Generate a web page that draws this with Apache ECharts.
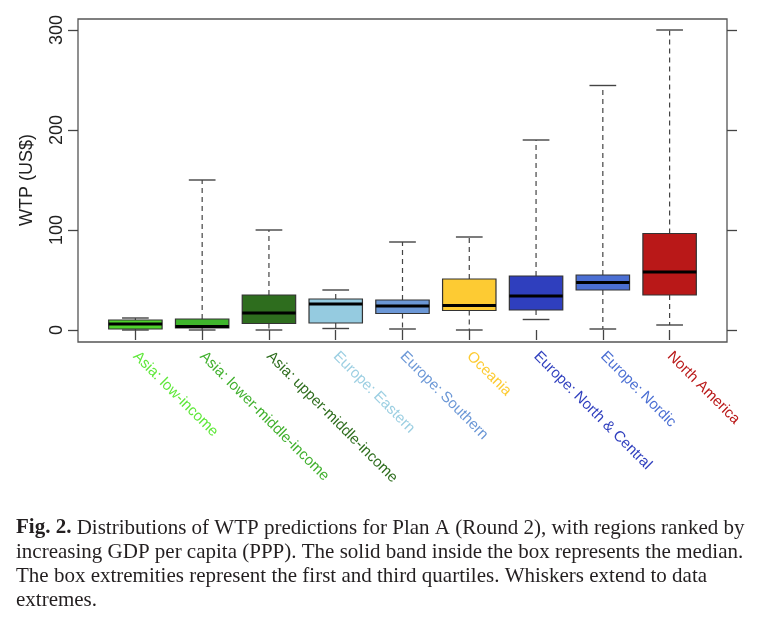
<!DOCTYPE html>
<html>
<head>
<meta charset="utf-8">
<script src="https://cdn.jsdelivr.net/npm/echarts@6/dist/echarts.min.js"></script>
<style>
html,body{margin:0;padding:0;background:#fff;}
#chart{width:768px;height:627px;}
</style>
</head>
<body>
<div id="chart"></div>
<script>
// Data
var categories = ['Asia: low-income','Asia: lower-middle-income','Asia: upper-middle-income','Europe: Eastern','Europe: Southern','Oceania','Europe: North & Central','Europe: Nordic','North America'];
var whiskerLow = [0, 0, 0, 1.5, 1, 0, 10.5, 1, 5];
var quartile1  = [1, 2, 6.5, 7, 16.5, 19.5, 20, 40, 35];
var medians    = [6, 3.5, 17, 26, 24, 24.5, 34, 47.5, 58];
var quartile3  = [10, 11, 35, 31, 30, 51, 54, 55, 96.5];
var whiskerHigh= [12, 150, 100, 40, 88, 93, 190, 244.5, 300];
var yTicks = [0, 100, 200, 300];

var boxColors   = ['#4fd22c','#3fb52c','#2e6d1e','#95cbe0','#6b97d6','#fdcb33','#2f3fbe','#4b6fd3','#b91818'];
var labelColors = ['#5fe83a','#41b02e','#2e6d1e','#9ccfe2','#6b97d6','#fdcb33','#2f3fbe','#4b6fd3','#b91818'];

var boxData = categories.map(function(c, i){
  return [i, whiskerLow[i], quartile1[i], medians[i], quartile3[i], whiskerHigh[i]];
});

var chart = echarts.init(document.getElementById('chart'), null, {renderer:'canvas'});

function renderBox(params, api){
  var i = api.value(0);
  var band = api.size([1, 0])[0];
  var bw = band * 0.8;
  var cw = band * 0.4;
  var pLow = api.coord([i, api.value(1)]);
  var pQ1 = api.coord([i, api.value(2)]);
  var pMed = api.coord([i, api.value(3)]);
  var pQ3 = api.coord([i, api.value(4)]);
  var pHigh = api.coord([i, api.value(5)]);
  var x = pMed[0];
  var dash = {stroke:'#444', lineWidth:1.2, lineDash:[5,4]};
  var solid = {stroke:'#444', lineWidth:1.4};
  return {
    type:'group',
    children:[
      {type:'line', shape:{x1:x, y1:pQ3[1], x2:x, y2:pHigh[1]}, style:dash},
      {type:'line', shape:{x1:x, y1:pQ1[1], x2:x, y2:pLow[1]}, style:dash},
      {type:'line', shape:{x1:x-cw/2, y1:pHigh[1], x2:x+cw/2, y2:pHigh[1]}, style:solid},
      {type:'line', shape:{x1:x-cw/2, y1:pLow[1], x2:x+cw/2, y2:pLow[1]}, style:solid},
      {type:'rect', shape:{x:x-bw/2, y:pQ3[1], width:bw, height:pQ1[1]-pQ3[1]},
        style:{fill:boxColors[i], stroke:'#333', lineWidth:1.2}},
      {type:'line', shape:{x1:x-bw/2, y1:pMed[1], x2:x+bw/2, y2:pMed[1]}, style:{stroke:'#000', lineWidth:3.2}}
    ]
  };
}

var caption = '{b|Fig. 2.}{n| Distributions of WTP predictions for Plan A (Round 2), with regions ranked by}\n' +
  '{n|increasing GDP per capita (PPP). The solid band inside the box represents the median.}\n' +
  '{n|The box extremities represent the first and third quartiles. Whiskers extend to data}\n' +
  '{n|extremes.}';

var capFont = 'Liberation Serif, Times New Roman, serif';

var option = {
  animation:false,
  backgroundColor:'#fff',
  title:{
    text: caption, left:16, top:516, padding:0,
    textStyle:{
      fontWeight:'normal', fontFamily:capFont, fontSize:21, lineHeight:24, color:'#231f20',
      rich:{
        b:{fontFamily:capFont, fontSize:21, fontWeight:'bold', color:'#231f20', lineHeight:24},
        n:{fontFamily:capFont, fontSize:21, fontWeight:'normal', color:'#231f20', lineHeight:24}
      }
    }
  },
  grid:[
    {left:78, top:19, width:649, height:323, show:true, borderColor:'#555', borderWidth:1.3, backgroundColor:'transparent'},
    {left:102, top:30, width:601, height:300}
  ],
  xAxis:[
    {gridIndex:0, type:'value', min:0, max:1, show:false},
    {gridIndex:1, type:'category', data: categories.map(function(c,i){ return {value:c, textStyle:{color:labelColors[i]}}; }),
      boundaryGap:true, offset:12,
      axisLine:{show:false},
      axisTick:{show:true, alignWithLabel:true, length:10, lineStyle:{color:'#444', width:1.3}},
      axisLabel:{interval:0, rotate:-45, margin:12, fontFamily:'Liberation Sans, Arial, sans-serif', fontSize:15}
    }
  ],
  yAxis:[
    {gridIndex:0, type:'value', min:0, max:1, show:false},
    {gridIndex:1, type:'value', min:0, max:300, interval:100, position:'left', offset:24,
      name:'WTP (US$)', nameLocation:'middle', nameGap:42, nameRotate:90,
      nameTextStyle:{fontFamily:'Liberation Sans, Arial, sans-serif', fontSize:18, color:'#222'},
      axisLine:{show:false}, splitLine:{show:false},
      axisTick:{show:true, length:10, lineStyle:{color:'#444', width:1.3}},
      axisLabel:{rotate:90, margin:12, fontFamily:'Liberation Sans, Arial, sans-serif', fontSize:18, color:'#222'}
    },
    {gridIndex:1, type:'value', min:0, max:300, interval:100, position:'right', offset:24,
      axisLine:{show:false}, splitLine:{show:false},
      axisTick:{show:true, length:10, lineStyle:{color:'#444', width:1.3}},
      axisLabel:{show:false}
    }
  ],
  series:[
    {type:'custom', xAxisIndex:1, yAxisIndex:1, renderItem:renderBox, data:boxData, clip:false,
      encode:{x:0, y:[1,2,3,4,5]}}
  ]
};
chart.setOption(option);
</script>
</body>
</html>
